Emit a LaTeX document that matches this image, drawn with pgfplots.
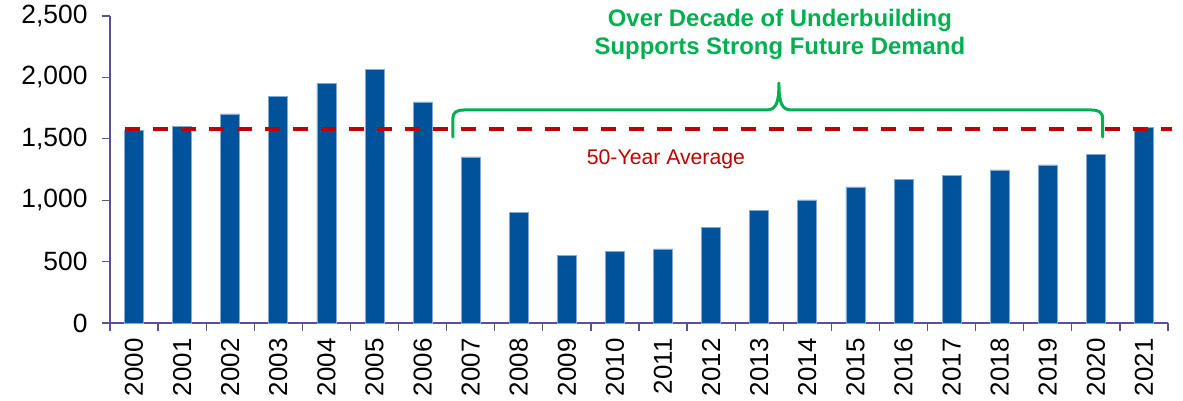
\documentclass[border=0pt]{standalone}
\usepackage{pgfplots}
\pgfplotsset{compat=1.18}
\usepackage{fontspec}
\setmainfont{Liberation Sans}
\definecolor{barblue}{RGB}{0,82,155}
\definecolor{baredge}{RGB}{130,170,210}
\definecolor{axpurple}{RGB}{90,80,150}
\definecolor{avgred}{RGB}{192,0,0}
\definecolor{bracegreen}{RGB}{0,176,80}
\pgfplotstableread{
x val
0 1566
1 1599
2 1702
3 1843
4 1954
5 2068
6 1800
7 1352
8 901
9 548
10 584
11 603
12 776
13 920
14 1002
15 1108
16 1170
17 1200
18 1246
19 1287
20 1374
21 1594
}\starts
\begin{document}
\begin{tikzpicture}
\begin{axis}[
  name=ax,
  scale only axis,
  width=1058bp, height=307bp,
  xmin=-0.5, xmax=21.5, ymin=0, ymax=2500,
  axis x line*=bottom,
  axis y line*=left,
  axis line style={axpurple, line width=1.2bp, -},
  tick align=outside,
  xtick pos=bottom, ytick pos=left,
  major tick length=8bp,
  xtick={-0.5,0.5,...,21.5},
  xticklabels={},
  x tick style={axpurple, line width=1.2bp},
  y tick style={axpurple, line width=1.2bp},
  extra x ticks={0,...,21},
  extra x tick labels={2000,2001,2002,2003,2004,2005,2006,2007,2008,2009,2010,2011,2012,2013,2014,2015,2016,2017,2018,2019,2020,2021},
  extra x tick style={major tick length=0pt, tick label style={rotate=90, anchor=east, font=\fontsize{26}{30}\selectfont}},
  ytick={0,500,...,2500},
  y tick label style={font=\fontsize{26.5}{30}\selectfont},
  yticklabel={\pgfmathprintnumber[fixed,1000 sep={,}]{\tick}},
  /pgf/number format/assume math mode=true,
  xticklabel shift=12bp,
  yticklabel shift=11bp,
  clip=false,
  enlargelimits=false,
]
\addplot[ybar, bar width=19bp, fill=barblue, draw=baredge, line width=0.7bp] table[x=x,y=val]{\starts};
\addplot[avgred, line width=4bp, dash pattern=on 15bp off 13bp] coordinates {(-0.19,1582) (21.58,1582)};
\draw[bracegreen, line width=3bp, line cap=round, line join=round]
  (axis cs:6.63,1515) -- (axis cs:6.63,1660)
  .. controls (axis cs:6.63,1720) and (axis cs:6.70,1735) .. (axis cs:6.90,1735)
  -- (axis cs:13.15,1735)
  .. controls (axis cs:13.35,1735) and (axis cs:13.41,1790) .. (axis cs:13.41,1954)
  .. controls (axis cs:13.41,1790) and (axis cs:13.47,1735) .. (axis cs:13.67,1735)
  -- (axis cs:19.87,1735)
  .. controls (axis cs:20.07,1735) and (axis cs:20.14,1720) .. (axis cs:20.14,1660)
  -- (axis cs:20.14,1515);
\node[bracegreen, align=center, font=\fontsize{24}{28}\selectfont\bfseries] at (axis cs:13.43,2353) {Over Decade of Underbuilding\\Supports Strong Future Demand};
\node[avgred, font=\fontsize{21.3}{25}\selectfont] at (axis cs:11.06,1335) {50-Year Average};
\end{axis}
\pgfresetboundingbox
\path ([xshift=-110bp,yshift=16bp]ax.north west) rectangle ([xshift=15bp,yshift=-78bp]ax.south east);
\end{tikzpicture}
\end{document}
